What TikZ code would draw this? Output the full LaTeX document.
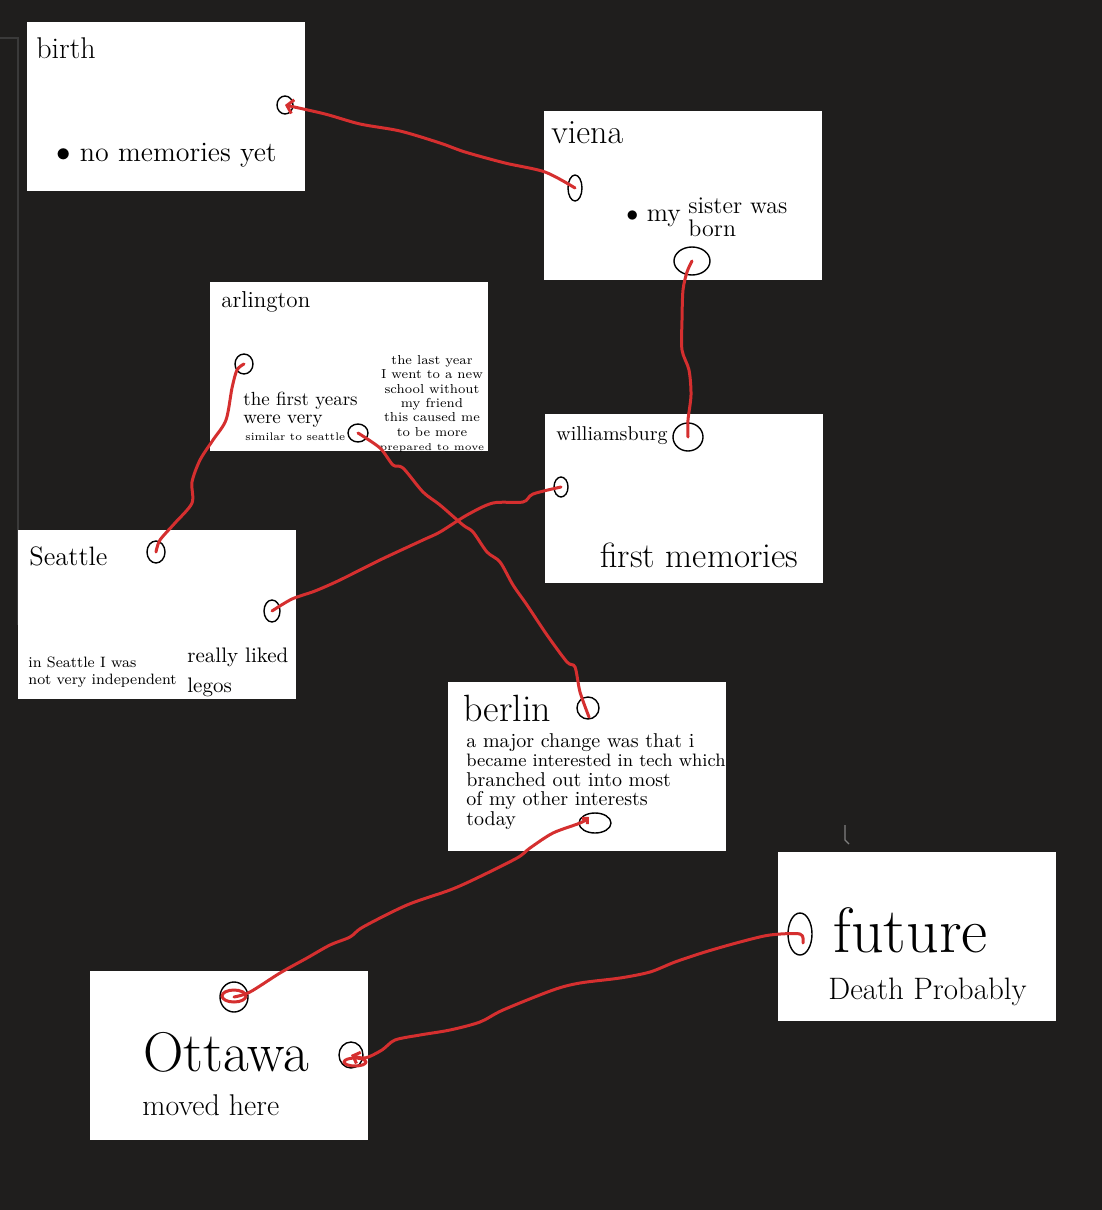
\documentclass[tikz,border=0pt]{standalone}
\usetikzlibrary{arrows.meta,shapes.geometric}
\definecolor{board}{HTML}{1F1E1D}
\definecolor{panel}{HTML}{3A3A3A}
\definecolor{ink}{HTML}{D52F2F}
\newcommand{\fs}[2]{\fontsize{#1}{#2}\selectfont}
\begin{document}
\begin{tikzpicture}[x=.5pt,y=-.5pt,
card/.style={fill=white,minimum width=139pt,minimum height=84.5pt,inner sep=0},
txt/.style={anchor=west,inner sep=0,text=black},
port/.style={draw,ellipse,line width=.7pt,inner sep=0},
wire/.style={ink,line width=1.5pt,line cap=round,line join=round}]
\useasboundingbox[fill=board](0,0)rectangle(1102,1210);
\draw[panel,line width=1pt](0,38)--(18,38)--(18,625);\draw[gray,line width=.6pt](845,825)--(845,840)--(849,844);
% cards
\node[card](birth)at(166,106.5){};\node[card](viena)at(683,195.5){};\node[card](arlington)at(349,366.5){};\node[card](wburg)at(684,498){};
\node[card](seattle)at(156.5,614.5){};\node[card](berlin)at(587,766.5){};\node[card](future)at(916.5,936.5){};\node[card](ottawa)at(228.5,1055.5){};
% texts
\node[txt,font=\fs{15}{15}](birthT)at(36,48){birth};\node[txt,font=\fs{14}{14}](birthN)at(56,155){$\bullet$ no memories yet};
\node[txt,font=\fs{17}{17}](vienaT)at(551,133){viena};\node[txt,font=\fs{13}{13}](vienaN)at(626,218){$\bullet$ my};
\node[txt,font=\fs{12}{11.5},align=left](vienaM)at(688,217){sister was\\born};
\node[txt,font=\fs{11.5}{11.5}](arlT)at(221,302){arlington};\node[txt,font=\fs{9.5}{9},align=left](arlN)at(243,410){the first years\\were very};
\node[txt,font=\fs{5.5}{6}](arlS)at(245,437){similar to seattle};
\node[inner sep=0,font=\fs{6.5}{7.2},align=center](arlR)at(432,404){the last year\\I went to a new\\school without\\my friend\\this caused me\\to be more\\{\fs{5}{6}prepared to move}};
\node[txt,font=\fs{10}{10}](wburgT)at(556,436){williamsburg};\node[txt,font=\fs{17.5}{17.5}](wburgN)at(600,555){first memories};
\node[txt,font=\fs{13.3}{13.3}](seaT)at(29,556){Seattle};\node[txt,font=\fs{7.5}{8.5},align=left](seaN)at(28,672){in Seattle I was\\not very independent};
\node[txt,font=\fs{10.5}{15},align=left](seaL)at(187,672){really liked\\legos};
\node[txt,font=\fs{19}{19}](berT)at(463,708){berlin};
\node[inner sep=0,anchor=north west,font=\fs{10}{9.75},align=left](berN)at(466,733){a major change was that i\\{\fs{9}{9.75}became interested in tech which}\\branched out into most\\of my other interests\\today};
\node[txt,font=\fs{32}{32}](futT)at(833,930){future};\node[txt,font=\fs{15.5}{15.5}](futN)at(828,992){Death Probably};
\node[txt,font=\fs{28}{28}](ottT)at(143,1052){Ottawa};\node[txt,font=\fs{15}{15}](ottN)at(142,1105){moved here};
% ports
\node[port,minimum width=8pt,minimum height=9pt](birthP)at(285,105){};
\node[port,minimum width=7pt,minimum height=13pt](vienaA)at(575,188){};\node[port,minimum width=18pt,minimum height=14pt](vienaB)at(692,261){};
\node[port,minimum width=9pt,minimum height=10pt](arlA)at(244,364){};\node[port,minimum width=10pt,minimum height=9pt](arlB)at(358,433){};
\node[port,minimum width=15pt,minimum height=14pt](wburgA)at(688,437){};\node[port,minimum width=7pt,minimum height=10pt](wburgB)at(561,487){};
\node[port,minimum width=9pt,minimum height=11pt](seaA)at(156,552){};\node[port,minimum width=8pt,minimum height=11pt](seaB)at(272,611){};
\node[port,minimum width=11pt,minimum height=11pt](berA)at(588,708){};\node[port,minimum width=16pt,minimum height=10pt](berB)at(595,823){};
\node[port,minimum width=12pt,minimum height=21pt](futP)at(800,934){};
\node[port,minimum width=14pt,minimum height=15pt](ottA)at(234,997){};\node[port,minimum width=12pt,minimum height=13pt](ottB)at(351,1055){};
% red links
\draw[wire,-{Straight Barb[length=3pt,width=7pt]}]plot[smooth]coordinates{(vienaA.center)(545,172)(505,163)(465,152)(440,143)(400,131)(360,124)(325,114)(birthP.center)};
\draw[wire]plot[smooth]coordinates{(vienaB.center)(687,272)(683,290)(682,320)(682,350)(689,370)(691,395)(688,420)(wburgA.center)};
\draw[wire]plot[smooth]coordinates{(wburgB.center)(533,494)(523,502)(493,503)(467,515)(440,532)(423,540)(380,560)(340,580)(315,591)(292,599)(seaB.center)};
\draw[wire]plot[smooth]coordinates{(arlA.center)(237,370)(232,388)(226,420)(213,440)(200,460)(192,482)(192,503)(175,523)(160,540)(seaA.center)};
\draw[wire]plot[smooth]coordinates{(arlB.center)(380,448)(393,465)(403,468)(423,492)(440,505)(463,525)(473,532)(487,552)(500,562)(513,585)(527,605)(547,635)(567,662)(575,667)(580,692)(589,717)};
\draw[wire,{Straight Barb[length=2pt,width=4pt]}-]plot[smooth]coordinates{(589,817)(580,823)(553,833)(530,848)(517,858)(477,878)(450,890)(407,905)(363,927)(350,937)(330,945)(307,958)(280,973)(250,992)(ottA.center)};
\draw[wire](234,996)ellipse[x radius=12,y radius=6];
\draw[wire,-{Straight Barb[length=3pt,width=6pt]}]plot[smooth]coordinates{(803,943)(futP.center)(770,935)(740,942)(705,952)(675,962)(650,972)(620,978)(580,983)(553,990)(503,1010)(480,1022)(450,1030)(420,1035)(395,1040)(382,1050)(365,1058)(ottB.center)};
\draw[wire](355,1062)ellipse[x radius=11,y radius=4];
\end{tikzpicture}
\end{document}
